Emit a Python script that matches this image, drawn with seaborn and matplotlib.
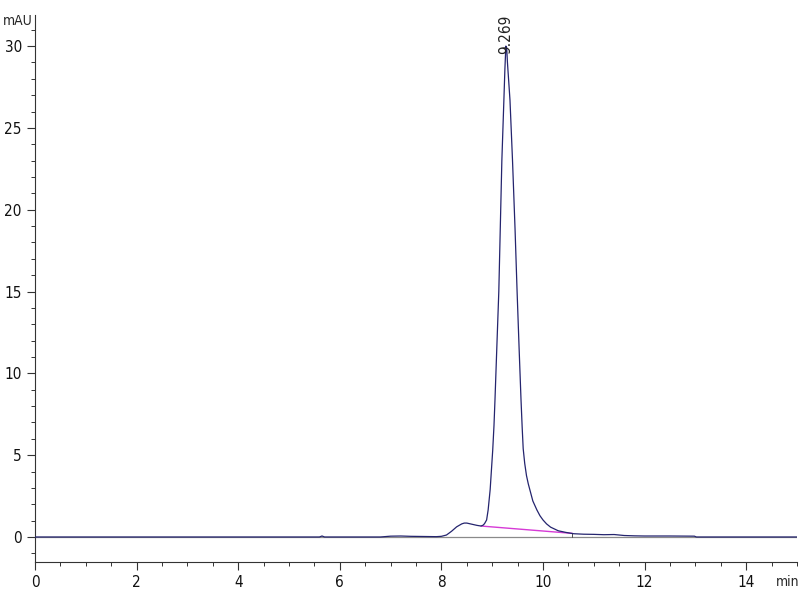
import numpy as np
import matplotlib
matplotlib.use("Agg")
import matplotlib.pyplot as plt
from matplotlib import font_manager
from matplotlib.ticker import MultipleLocator
import seaborn as sns
import pandas as pd

# retention time (min) and absorbance (mAU)
time = [0.0, 5.60, 5.65, 5.70, 6.80, 7.00, 7.20, 7.40, 7.90, 8.00, 8.10,
        8.20, 8.30, 8.40, 8.45, 8.50, 8.60, 8.70, 8.78, 8.82, 8.85, 8.89,
        8.92, 8.96, 9.01, 9.035, 9.055, 9.09, 9.13, 9.16, 9.19, 9.23, 9.25,
        9.269, 9.285, 9.30, 9.35, 9.40, 9.45, 9.49, 9.53, 9.567, 9.59, 9.61,
        9.64, 9.675, 9.71, 9.74, 9.80, 9.88, 9.94, 10.00, 10.07, 10.15,
        10.30, 10.45, 10.60, 10.80, 11.00, 11.20, 11.40, 11.60, 11.80,
        12.00, 12.50, 12.98, 13.02, 14.00, 15.0]
mau = [0.0, 0.0, 0.06, 0.0, 0.0, 0.05, 0.06, 0.04, 0.02, 0.04, 0.12,
       0.35, 0.62, 0.80, 0.85, 0.85, 0.78, 0.71, 0.67, 0.72, 0.82, 1.04,
       1.65, 2.90, 5.30, 6.80, 8.40, 11.5, 15.0, 19.0, 23.0, 26.7, 28.6,
       30.0, 29.9, 29.0, 26.7, 23.0, 18.8, 15.0, 11.5, 8.40, 6.70, 5.40,
       4.50, 3.75, 3.25, 2.90, 2.20, 1.65, 1.30, 1.04, 0.80, 0.60,
       0.38, 0.28, 0.20, 0.17, 0.16, 0.14, 0.15, 0.09, 0.07,
       0.06, 0.06, 0.05, 0.0, 0.0, 0.0]

# integration baseline under the main peak
base_t = [8.78, 10.58]
base_y = [0.67, 0.22]

peak_rt = 9.269
peak_label = "9.269"

sns.set_style("ticks")
names = {f.name for f in font_manager.fontManager.ttflist}
fam = [f for f in ["Liberation Sans Narrow", "DejaVu Sans"] if f in names]
plt.rcParams["font.family"] = fam
plt.rcParams["font.stretch"] = "condensed"

df = pd.DataFrame({"time": time, "mAU": mau})

fig = plt.figure(figsize=(8, 6), dpi=100)
ax = fig.add_axes([0.04375, 0.0633, 0.9525, 0.9117])

ax.axhline(0, color="#8a8a8a", lw=0.9, zorder=1)
sns.lineplot(data=df, x="time", y="mAU", ax=ax, color="#24246e", lw=0.9,
             estimator=None, sort=False, zorder=3)
ax.plot(base_t, base_y, color="#d63ad6", lw=1.0, zorder=2)
ax.plot([base_t[1], base_t[1]], [base_y[1] - 0.25, base_y[1] + 0.05],
        color="#505050", lw=0.7)

ax.text(peak_rt, 29.5, peak_label, rotation=90, ha="center", va="bottom",
        fontsize=11, color="#222222")

ax.set_xlim(0, 15)
ax.set_ylim(-1.53, 31.9)
ax.xaxis.set_major_locator(MultipleLocator(2))
ax.xaxis.set_minor_locator(MultipleLocator(0.5))
ax.yaxis.set_major_locator(MultipleLocator(5))
ax.yaxis.set_minor_locator(MultipleLocator(1))
ax.tick_params(which="major", length=6, width=0.8, colors="#333333",
               labelsize=11, labelcolor="#111111")
ax.tick_params(which="minor", length=3, width=0.7, colors="#333333")
ax.set_xlabel("")
ax.set_ylabel("")
sns.despine(ax=ax)
for s in ["left", "bottom"]:
    ax.spines[s].set_color("#333333")
    ax.spines[s].set_linewidth(0.8)

fig.text(0.003, 0.965, "mAU", fontsize=10, ha="left", va="center")
fig.text(0.999, 0.03, "min", fontsize=10, ha="right", va="center")

fig.savefig("out.png", dpi=100)
